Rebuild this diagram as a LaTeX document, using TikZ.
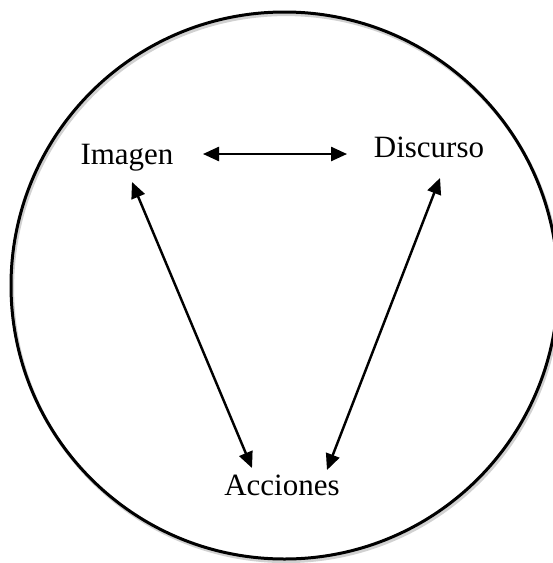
\documentclass[tikz,border=0pt]{standalone}
\usepackage{fontspec}
\setmainfont{Liberation Serif}
\usetikzlibrary{arrows.meta}
\tikzset{
  lbl/.style={anchor=base, inner sep=0pt, font=\fontsize{31}{36}\selectfont},
  dbl/.style={line width=2.4pt, {Triangle[length=16pt,width=14pt]}-{Triangle[length=16pt,width=14pt]}},
  shadowline/.style={line width=3.2pt, draw=black!18},
}
\begin{document}
\begin{tikzpicture}[x=1pt,y=-1pt]
\useasboundingbox (0,0) rectangle (553,563);
\clip (0,0) rectangle (553,563);
% circle with shadow
\draw[shadowline] (286,288) circle[radius=273.5pt];
\draw[line width=3pt] (284.5,285.5) circle[radius=273.5pt];
% labels
\node[lbl] (img) at (127,164) {Imagen};
\node[lbl] (dis) at (429,157) {Discurso};
\node[lbl] (acc) at (282,495) {Acciones};
% arrow endpoints
\coordinate (h1) at (203,154);
\coordinate (h2) at (347,154);
\coordinate (l1) at (132,182);
\coordinate (l2) at (252,468);
\coordinate (r1) at (440,178);
\coordinate (r2) at (327,470);
% shadows
\begin{scope}[shift={(1.5,2.5)}]
\draw[dbl, black!15] (h1) -- (h2);
\draw[dbl, black!15] (l1) -- (l2);
\draw[dbl, black!15] (r1) -- (r2);
\end{scope}
% arrows
\draw[dbl] (h1) -- (h2);
\draw[dbl] (l1) -- (l2);
\draw[dbl] (r1) -- (r2);
\end{tikzpicture}
\end{document}
